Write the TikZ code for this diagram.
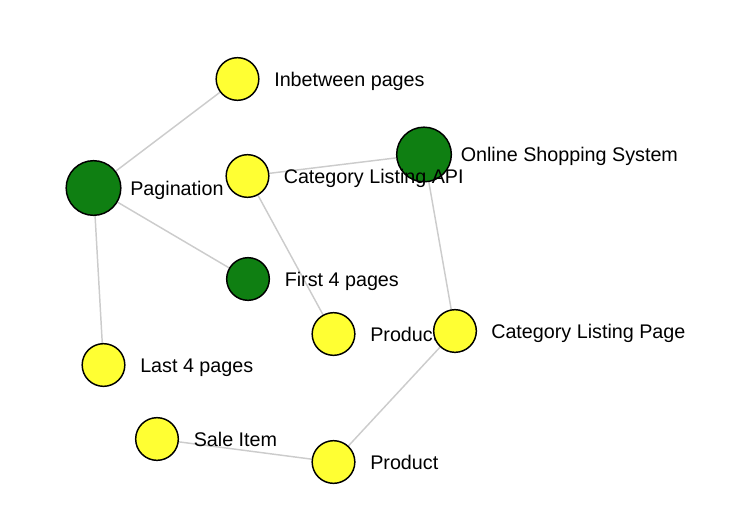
\documentclass[tikz,border=0pt]{standalone}
\usepackage{fontspec}
\setmainfont{Liberation Sans}
\usetikzlibrary{backgrounds}
\definecolor{nyellow}{HTML}{FFFF33}
\definecolor{ngreen}{HTML}{0F7F12}
\definecolor{nlink}{HTML}{CCCCCC}
\begin{document}
\begin{tikzpicture}[x=0.75pt,y=-0.75pt,
  ynode/.style={circle,draw=black,line width=1.1pt,fill=nyellow,inner sep=0pt,minimum size=32pt},
  gnode/.style={circle,draw=black,line width=1.1pt,fill=ngreen,inner sep=0pt,minimum size=41pt},
  lbl/.style={anchor=base west,inner sep=0pt,font=\fontsize{14.8}{17}\selectfont},
  link/.style={draw=nlink,line width=1.1pt}]
\useasboundingbox (0,0) rectangle (745,521);
\node[gnode] (pag) at (93.5,188) {};
\node[lbl] (lpag) at (130,195) {Pagination};
\node[ynode] (inb) at (237.5,79) {};
\node[lbl] (linb) at (274,86) {Inbetween pages};
\node[gnode] (oss) at (424,154.5) {};
\node[lbl] (loss) at (460.5,161.5) {Online Shopping System};
\node[ynode] (api) at (247.5,176) {};
\node[lbl] (lapi) at (283.5,183) {Category Listing API};
\node[gnode,minimum size=32pt] (f4) at (248,279) {};
\node[lbl] (lf4) at (284.5,286) {First 4 pages};
\node[ynode] (pu) at (333.5,334) {};
\node[lbl] (lpu) at (370,341) {Product};
\node[ynode] (clp) at (455,331) {};
\node[lbl] (lclp) at (491,338) {Category Listing Page};
\node[ynode] (l4) at (103.5,365) {};
\node[lbl] (ll4) at (140,372) {Last 4 pages};
\node[ynode] (sale) at (157,439) {};
\node[lbl] (lsale) at (193.5,446) {Sale Item};
\node[ynode] (pl) at (333.5,462) {};
\node[lbl] (lpl) at (370,469) {Product};
\begin{scope}[on background layer]
\draw[link] (pag) -- (inb);
\draw[link] (pag) -- (f4);
\draw[link] (pag) -- (l4);
\draw[link] (api) -- (oss);
\draw[link] (api) -- (pu);
\draw[link] (oss) -- (clp);
\draw[link] (clp) -- (pl);
\draw[link] (sale) -- (pl);
\end{scope}
\end{tikzpicture}
\end{document}
